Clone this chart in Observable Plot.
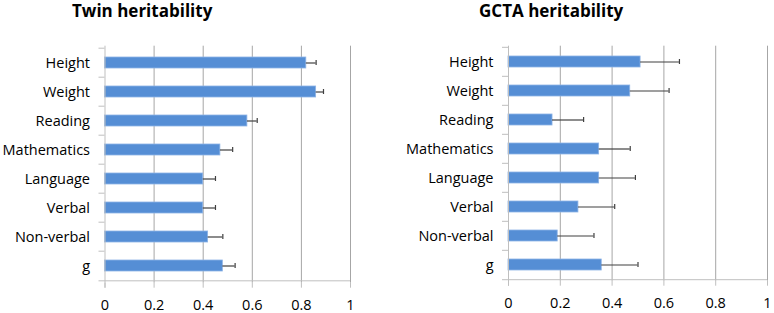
<!DOCTYPE html>
<html>
<head>
<meta charset="utf-8">
<script src="https://cdn.jsdelivr.net/npm/d3@7"></script>
<script src="https://cdn.jsdelivr.net/npm/@observablehq/plot@0.6"></script>
<style>
  html, body { margin: 0; padding: 0; background: #fff; }
  #wrap { position: relative; width: 774px; height: 313px; overflow: hidden; font-family: "Open Sans", sans-serif; }
  .title { position: absolute; z-index: 5; font-weight: bold; font-size: 17px; line-height: 22px; color: #000; white-space: nowrap; }
  .panel { position: absolute; top: 0; z-index: 1; }
</style>
</head>
<body>
<div id="wrap">
  <div class="panel" id="p1" style="left:0px;"></div>
  <div class="panel" id="p2" style="left:387px;"></div>
  <div class="title" id="t1" style="left:72px; top:0px;">Twin heritability</div>
  <div class="title" id="t2" style="left:479px; top:0px;">GCTA heritability</div>
</div>
<script>
const categories = ["Height", "Weight", "Reading", "Mathematics", "Language", "Verbal", "Non-verbal", "g"];
const twinValues = [0.82, 0.86, 0.58, 0.47, 0.40, 0.40, 0.42, 0.48];
const twinErrors = [0.04, 0.03, 0.04, 0.05, 0.05, 0.05, 0.06, 0.05];
const gctaValues = [0.51, 0.47, 0.17, 0.35, 0.35, 0.27, 0.19, 0.36];
const gctaErrors = [0.15, 0.15, 0.12, 0.12, 0.14, 0.14, 0.14, 0.14];
const xTicks = [0, 0.2, 0.4, 0.6, 0.8, 1];

function panel(values, errors, m) {
  const data = categories.map((c, i) => ({cat: c, v: values[i], e: errors[i]}));
  const W = 387, H = 313;
  const step = (H - m.top - m.bottom) / categories.length;
  return Plot.plot({
    width: W, height: H,
    marginLeft: m.left, marginRight: m.right, marginTop: m.top, marginBottom: m.bottom,
    style: {fontFamily: "'Open Sans', sans-serif", fontSize: "14.5px", color: "#000", background: "transparent"},
    x: {domain: [0, 1]},
    y: {domain: categories, paddingInner: 0.63, paddingOuter: 0.315},
    marks: [
      Plot.gridX(xTicks.filter(d => d > 0), {stroke: "#a6a6a6", strokeOpacity: 1}),
      Plot.barX(data, {y: "cat", x: "v", fill: "#558ED5", stroke: "#8db3e6", strokeWidth: 0.8}),
      Plot.ruleY(data, {y: "cat", x1: "v", x2: d => d.v + d.e, stroke: "#404040", strokeWidth: 1.2}),
      Plot.tickX(data, {y: "cat", x: d => d.v + d.e, stroke: "#404040", strokeWidth: 1.2, insetTop: 3, insetBottom: 3}),
      Plot.ruleX([0], {stroke: "#bfbfbf", insetBottom: -5}),
      Plot.ruleY(categories, {y: d => d, x1: 0, x2: 0, insetLeft: -6, dy: -step / 2, stroke: "#bfbfbf"}),
      Plot.ruleY(categories.slice(-1), {y: d => d, x1: 0, x2: 1, insetLeft: -6, dy: step / 2, stroke: "#bfbfbf"}),
      Plot.axisY({tickSize: 0, tickPadding: 15, label: null, fill: "#000", fontSize: 14.5}),
      Plot.axisX({ticks: xTicks, tickFormat: d => String(d), tickSize: 5, tickPadding: 12, label: null, stroke: "#bfbfbf", fill: "#000", fontSize: 14.5})
    ]
  });
}

document.getElementById("p1").append(panel(twinValues, twinErrors, {left: 104.5, right: 37, top: 45.7, bottom: 30.3}));
document.getElementById("p2").append(panel(gctaValues, gctaErrors, {left: 121, right: 7, top: 45.7, bottom: 32.3}));
</script>
</body>
</html>
